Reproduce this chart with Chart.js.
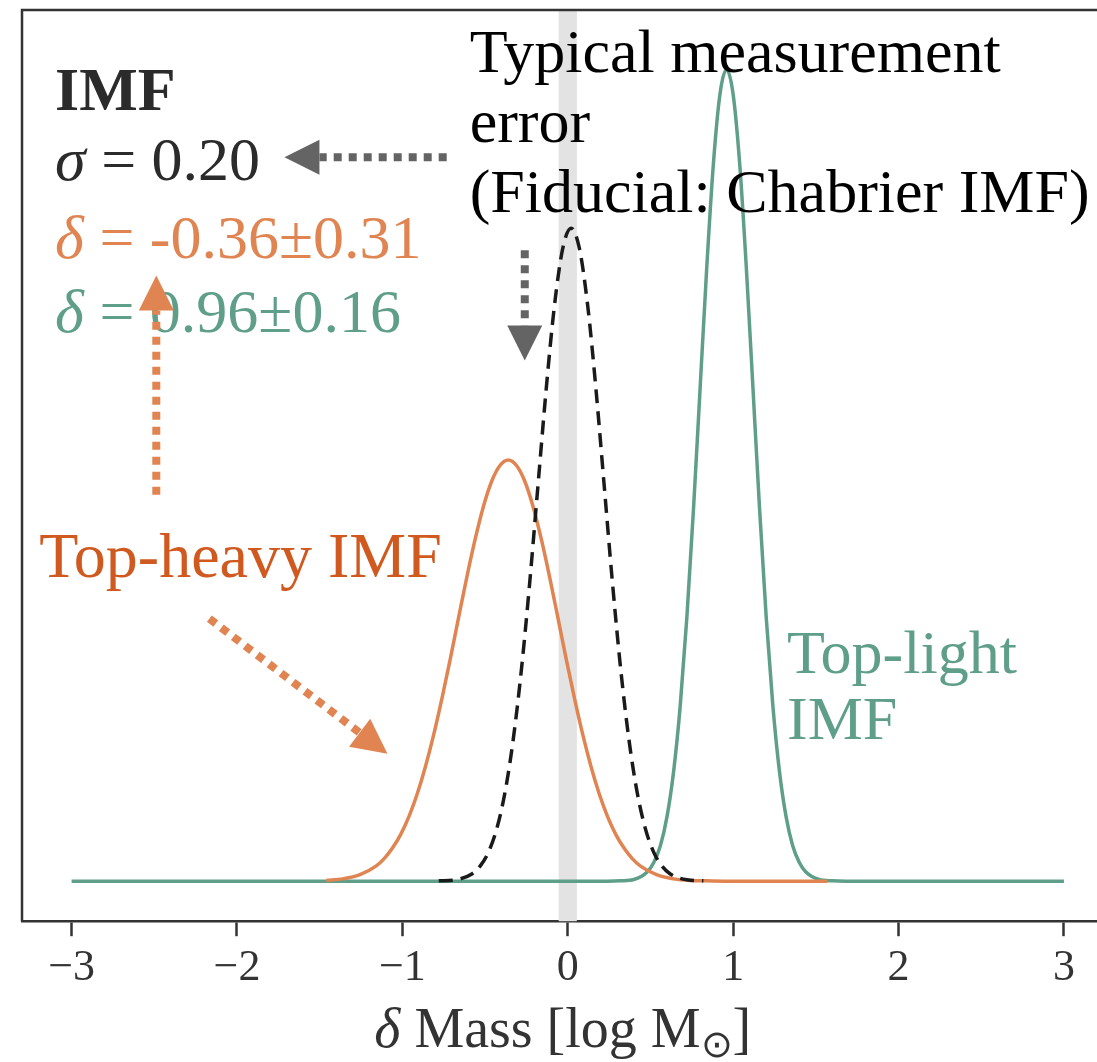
<!DOCTYPE html>
<html>
<head>
<meta charset="utf-8">
<script src="https://cdn.jsdelivr.net/npm/chart.js@4.4.1/dist/chart.umd.min.js"></script>
<style>
  html, body { margin: 0; padding: 0; background: #fff; }
  canvas { display: block; }
</style>
</head>
<body>
<canvas id="imf-chart" width="1097" height="1062"></canvas>
<script>
// values (x = delta Mass, y = probability density)
const tickValues = [-3, -2, -1, 0, 1, 2, 3];

// Chabrier / typical measurement error (sigma = 0.20)
const blackX = [-0.78, -0.68, -0.58, -0.53, -0.48, -0.43, -0.38, -0.33, -0.28, -0.23, -0.18, -0.13, -0.08, -0.03,
    0.02, 0.07, 0.12, 0.17, 0.22, 0.27, 0.32, 0.37, 0.42, 0.47, 0.52, 0.57, 0.62, 0.72, 0.82];
const blackY = [0.001, 0.004, 0.022, 0.046, 0.088, 0.159, 0.270, 0.432, 0.648, 0.913, 1.210, 1.506, 1.761, 1.934,
    1.995, 1.934, 1.761, 1.506, 1.210, 0.913, 0.648, 0.432, 0.270, 0.159, 0.088, 0.046, 0.022, 0.004, 0.001];

// top-heavy IMF (delta = -0.36 +- 0.31)
const orangeX = [-1.46, -1.36, -1.26, -1.16, -1.11, -1.06, -1.01, -0.96, -0.91, -0.86, -0.81, -0.76, -0.71, -0.66,
    -0.61, -0.56, -0.51, -0.46, -0.41, -0.36, -0.31, -0.26, -0.21, -0.16, -0.11, -0.06, -0.01, 0.04, 0.09,
    0.14, 0.19, 0.24, 0.29, 0.34, 0.39, 0.44, 0.54, 0.64, 0.74, 0.84, 1.0, 1.57];
const orangeY = [0.002, 0.007, 0.019, 0.046, 0.069, 0.101, 0.143, 0.198, 0.267, 0.351, 0.449, 0.560, 0.680, 0.806,
    0.930, 1.045, 1.145, 1.222, 1.270, 1.287, 1.270, 1.222, 1.145, 1.045, 0.930, 0.806, 0.680, 0.560, 0.449,
    0.351, 0.267, 0.198, 0.143, 0.101, 0.069, 0.046, 0.019, 0.007, 0.002, 0.001, 0, 0];

// top-light IMF (delta = 0.96 +- 0.16)
const greenX = [-3.0, 0.24, 0.32, 0.40, 0.48, 0.52, 0.56, 0.60, 0.64, 0.68, 0.72, 0.76, 0.80, 0.84, 0.88, 0.92,
    0.96, 1.00, 1.04, 1.08, 1.12, 1.16, 1.20, 1.24, 1.28, 1.32, 1.36, 1.40, 1.44, 1.52, 1.60, 1.68, 3.0];
const greenY = [0, 0, 0.001, 0.005, 0.028, 0.057, 0.108, 0.197, 0.335, 0.536, 0.805, 1.135, 1.504, 1.872, 2.189, 2.404,
    2.480, 2.404, 2.189, 1.872, 1.504, 1.135, 0.805, 0.536, 0.335, 0.197, 0.108, 0.057, 0.028, 0.005, 0.001, 0, 0];

const SERIF = "'Liberation Serif', 'Times New Roman', serif";
const ORANGE = '#e08452';
const GREEN = '#5f9f89';
const GREY = '#646464';

const toPoints = (xs, ys) => xs.map((x, i) => ({ x: x, y: ys[i] }));

// draws a row of differently styled text pieces, left to right
function drawRuns(ctx, x, y, runs) {
    runs.forEach(r => {
        ctx.font = r.font;
        ctx.fillStyle = r.color;
        ctx.fillText(r.text, x, y + (r.dy || 0));
        x += ctx.measureText(r.text).width;
    });
}

function drawArrow(ctx, x0, y0, x1, y1, color) {
    const len = Math.hypot(x1 - x0, y1 - y0);
    const ux = (x1 - x0) / len, uy = (y1 - y0) / len;
    const head = 35, half = 17.5;
    const bx = x1 - ux * head, by = y1 - uy * head;
    ctx.save();
    ctx.strokeStyle = color;
    ctx.fillStyle = color;
    ctx.lineWidth = 8;
    ctx.lineCap = 'butt';
    ctx.setLineDash([8, 7]);
    ctx.beginPath();
    ctx.moveTo(x0, y0);
    ctx.lineTo(bx, by);
    ctx.stroke();
    ctx.setLineDash([]);
    ctx.beginPath();
    ctx.moveTo(x1, y1);
    ctx.lineTo(bx - uy * half, by + ux * half);
    ctx.lineTo(bx + uy * half, by - ux * half);
    ctx.closePath();
    ctx.fill();
    ctx.restore();
}

const annotations = {
    id: 'annotations',
    beforeDatasetsDraw(chart) {
        const { ctx, chartArea, scales: { x } } = chart;
        // grey band marking zero offset
        const l = x.getPixelForValue(-0.055), r = x.getPixelForValue(0.055);
        ctx.save();
        ctx.fillStyle = '#e3e3e3';
        ctx.fillRect(l, chartArea.top, r - l, chartArea.bottom - chartArea.top);
        ctx.restore();
    },
    afterDraw(chart) {
        const { ctx, chartArea, scales: { x, y } } = chart;
        const px = v => x.getPixelForValue(v);
        const py = v => y.getPixelForValue(v);

        ctx.save();
        // frame: left and top spines
        ctx.strokeStyle = '#333';
        ctx.lineWidth = 2.5;
        ctx.beginPath();
        ctx.moveTo(chartArea.left, chartArea.bottom);
        ctx.lineTo(chartArea.left, chartArea.top);
        ctx.lineTo(chartArea.right + 2, chartArea.top);
        ctx.stroke();

        ctx.textBaseline = 'alphabetic';
        ctx.textAlign = 'left';
        const reg = `62px ${SERIF}`, ital = `italic 62px ${SERIF}`;

        drawRuns(ctx, px(-3.10), py(2.356), [{ text: 'IMF', font: `bold 62px ${SERIF}`, color: '#2b2b2b' }]);
        drawRuns(ctx, px(-3.10), py(2.142), [
            { text: 'σ', font: ital, color: '#2b2b2b' },
            { text: ' = 0.20', font: reg, color: '#2b2b2b' }]);
        drawRuns(ctx, px(-3.10), py(1.903), [
            { text: 'δ', font: ital, color: ORANGE },
            { text: ' = -0.36±0.31', font: reg, color: ORANGE }]);
        drawRuns(ctx, px(-3.10), py(1.677), [
            { text: 'δ', font: ital, color: GREEN },
            { text: ' = 0.96±0.16', font: reg, color: GREEN }]);

        ['Typical measurement', 'error', '(Fiducial: Chabrier IMF)'].forEach((t, i) => {
            drawRuns(ctx, px(-0.593), py(2.472 - i * 0.214), [{ text: t, font: reg, color: '#000' }]);
        });

        drawRuns(ctx, px(-3.196), py(0.930), [{ text: 'Top-heavy IMF', font: `64px ${SERIF}`, color: '#d0591f' }]);
        drawRuns(ctx, px(1.326), py(0.636), [{ text: 'Top-light', font: reg, color: GREEN }]);
        drawRuns(ctx, px(1.326), py(0.435), [{ text: 'IMF', font: reg, color: GREEN }]);

        // arrows
        drawArrow(ctx, px(-0.732), py(2.212), px(-1.713), py(2.212), GREY);
        drawArrow(ctx, px(-0.260), py(1.928), px(-0.260), py(1.591), GREY);
        drawArrow(ctx, px(-2.488), py(1.181), px(-2.488), py(1.851), ORANGE);
        drawArrow(ctx, px(-2.167), py(0.802), px(-1.090), py(0.389), ORANGE);

        // x axis title with subscript sun symbol
        const tf = `56px ${SERIF}`;
        const parts = [
            { text: 'δ', font: `italic 56px ${SERIF}`, color: '#333' },
            { text: ' Mass [log M', font: tf, color: '#333' },
            { text: '⊙', font: `38px ${SERIF}`, color: '#333', dy: 10 },
            { text: ']', font: tf, color: '#333' }];
        let w = 0;
        parts.forEach(p => { ctx.font = p.font; w += ctx.measureText(p.text).width; });
        drawRuns(ctx, px(-0.03) - w / 2, 1047, parts);
        ctx.restore();
    }
};

new Chart(document.getElementById('imf-chart').getContext('2d'), {
    type: 'line',
    data: {
        datasets: [
            { label: 'Chabrier', data: toPoints(blackX, blackY), borderColor: '#1a1a1a', borderWidth: 3.5,
              borderDash: [14, 8], order: 0 },
            { label: 'Top-heavy', data: toPoints(orangeX, orangeY), borderColor: ORANGE, borderWidth: 3.5, order: 1 },
            { label: 'Top-light', data: toPoints(greenX, greenY), borderColor: GREEN, borderWidth: 3.5, order: 2 }
        ]
    },
    options: {
        responsive: false,
        animation: false,
        devicePixelRatio: 1,
        elements: {
            point: { radius: 0 },
            line: { cubicInterpolationMode: 'monotone', fill: false }
        },
        layout: { padding: { left: 22, top: 10, right: 0, bottom: 61 } },
        plugins: { legend: { display: false }, tooltip: { enabled: false } },
        scales: {
            x: {
                type: 'linear',
                min: -3.3,
                max: 3.2,
                afterBuildTicks: axis => { axis.ticks = tickValues.map(v => ({ value: v })); },
                grid: { drawOnChartArea: false, drawTicks: true, tickLength: 15, tickWidth: 2.5, tickColor: '#333' },
                border: { display: true, color: '#333', width: 2.5 },
                ticks: {
                    autoSkip: false,
                    maxRotation: 0,
                    padding: 6,
                    color: '#333',
                    font: { family: SERIF, size: 44 },
                    callback: v => v < 0 ? '\u2212' + Math.abs(v) : String(v)
                }
            },
            y: { display: false, min: -0.1224, max: 2.662 }
        }
    },
    plugins: [annotations]
});
</script>
</body>
</html>
